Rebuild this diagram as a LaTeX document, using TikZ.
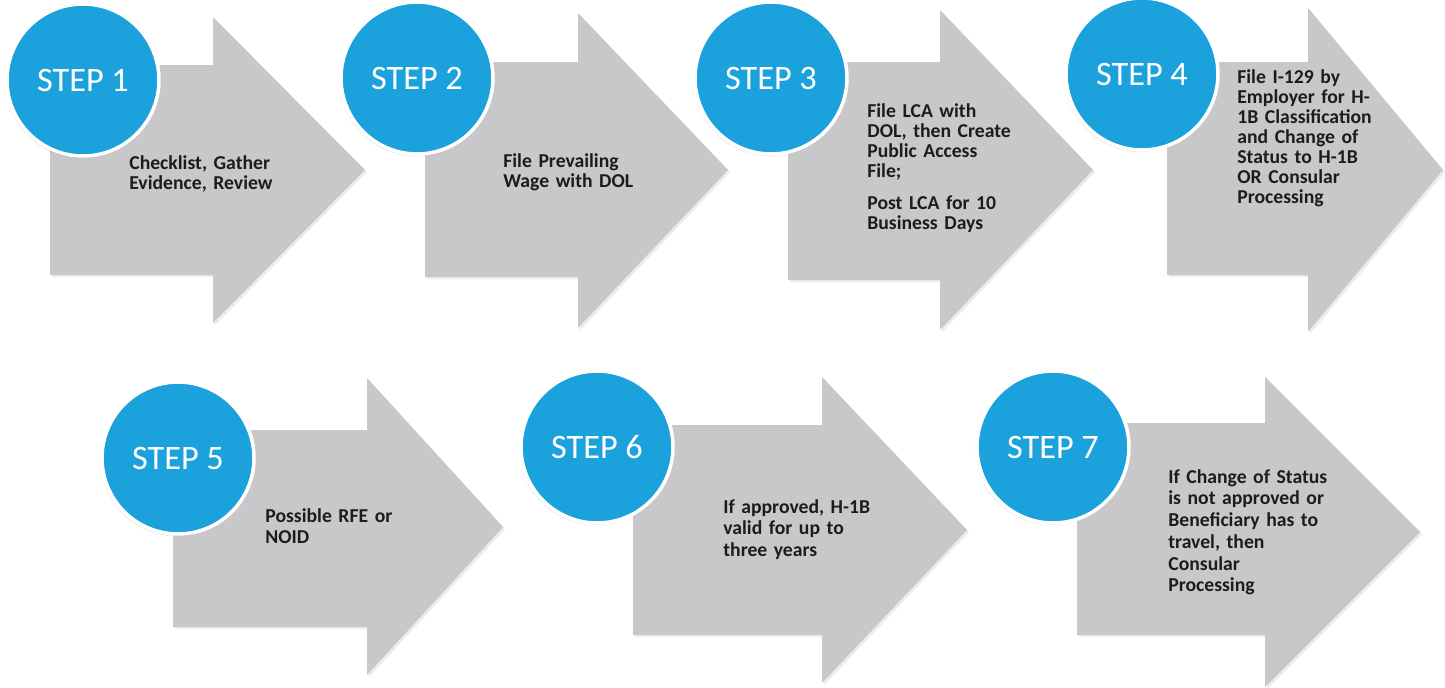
\documentclass[tikz,border=0pt]{standalone}
\usepackage{fontspec}
\setmainfont{Carlito}
\usepackage{tikz}
\usetikzlibrary{positioning, shadows}

\definecolor{stepblue}{RGB}{27,161,219}
\definecolor{stepgray}{RGB}{200,200,202}
\definecolor{steptext}{RGB}{28,28,28}

\begin{document}
\begin{tikzpicture}[
    x=0.02cm, y=-0.02cm,
    stepArrow/.style={fill=stepgray, drop shadow={opacity=0.15, shadow xshift=1.2pt, shadow yshift=-1.2pt}},
    stepCircle/.style={circle, fill=stepblue, draw=white, line width=2pt, minimum size=3.04cm, inner sep=0pt,
        text=white, font=\fontsize{19.5}{20}\selectfont,
        drop shadow={opacity=0.2, shadow xshift=-0.8pt, shadow yshift=-1.2pt}},
    stepText/.style={anchor=base west, inner sep=0pt, text width=3.6cm, align=left, text=steptext,
        font=\bfseries\fontsize{11.2}{11.4}\selectfont},
    stepTextLow/.style={stepText, font=\bfseries\fontsize{11.2}{12.4}\selectfont}
]

    \useasboundingbox (0,0) rectangle (1445,687);

    % Top row arrows
    \fill[stepArrow] (50,65) -- (213,65) -- (213,17) -- (365,170) -- (213,323) -- (213,275) -- (50,275) -- cycle;
    \fill[stepArrow] (425,62) -- (578,62) -- (578,13) -- (728,170) -- (578,328) -- (578,277) -- (425,277) -- cycle;
    \fill[stepArrow] (788,62) -- (940,62) -- (940,10) -- (1093,170) -- (940,330) -- (940,280) -- (788,280) -- cycle;
    \fill[stepArrow] (1167,62) -- (1308,62) -- (1308,8) -- (1443,170) -- (1308,332) -- (1308,275) -- (1167,275) -- cycle;

    % Bottom row arrows
    \fill[stepArrow] (173,430) -- (367,430) -- (367,378) -- (503,527) -- (367,675) -- (367,627) -- (173,627) -- cycle;
    \fill[stepArrow] (633,425) -- (822,425) -- (822,377) -- (967,530) -- (822,683) -- (822,635) -- (633,635) -- cycle;
    \fill[stepArrow] (1077,423) -- (1265,423) -- (1265,377) -- (1420,532) -- (1265,687) -- (1265,635) -- (1077,635) -- cycle;

    % Step circles
    \node[stepCircle] (s1) at (83,80) {STEP 1};
    \node[stepCircle] (s2) at (417,78) {STEP 2};
    \node[stepCircle] (s3) at (771,78) {STEP 3};
    \node[stepCircle] (s4) at (1142,74) {STEP 4};
    \node[stepCircle] (s5) at (178,458) {STEP 5};
    \node[stepCircle] (s6) at (597,447) {STEP 6};
    \node[stepCircle] (s7) at (1053,447) {STEP 7};

    % Step texts
    \node[stepText] (t1) at (129,169) {Checklist, Gather\\Evidence, Review};
    \node[stepText] (t2) at (503,167) {File Prevailing\\Wage with DOL};
    \node[stepText] (t3) at (867,117) {File LCA with\\DOL, then Create\\Public Access\\File;\\[7pt]Post LCA for 10\\Business Days};
    \node[stepText] (t4) at (1237,83) {File I-129 by\\Employer for H-\\1B Classification\\and Change of\\Status to H-1B\\OR Consular\\Processing};
    \node[stepTextLow] (t5) at (265,522) {Possible RFE or\\NOID};
    \node[stepTextLow] (t6) at (723,513) {If approved, H-1B\\valid for up to\\three years};
    \node[stepTextLow] (t7) at (1168,483) {If Change of Status\\is not approved or\\Beneficiary has to\\travel, then\\Consular\\Processing};

\end{tikzpicture}
\end{document}
